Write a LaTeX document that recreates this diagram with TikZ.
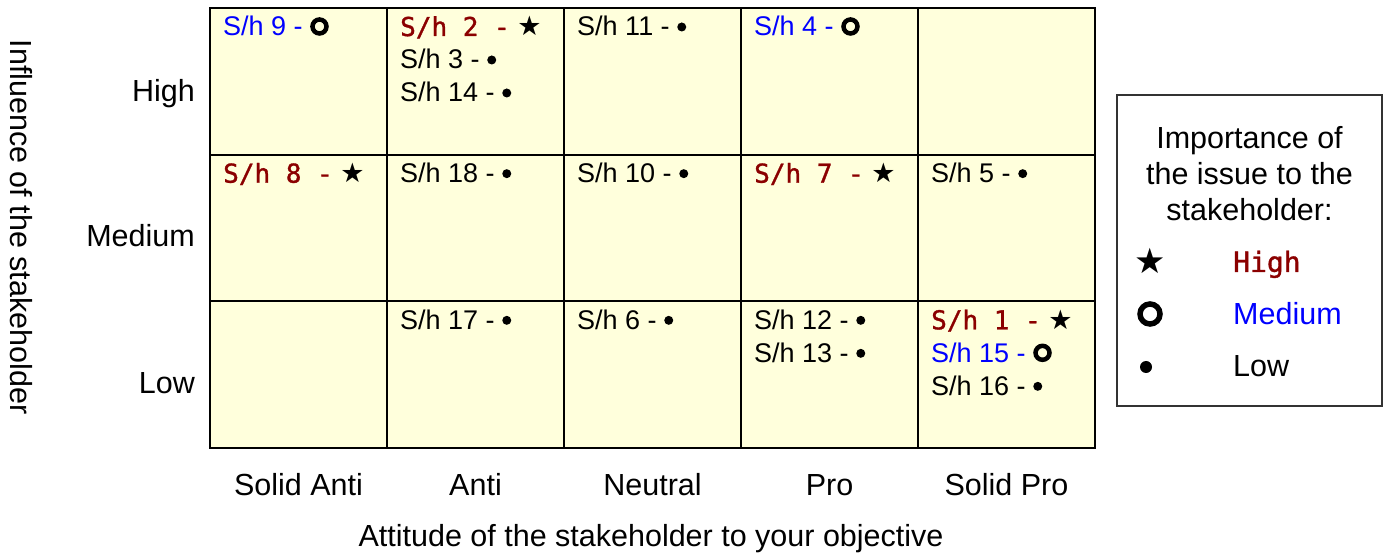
\documentclass[tikz,border=0pt]{standalone}
\usepackage{fontspec}
\setmainfont{Liberation Sans}
\newfontfamily\symfont{DejaVu Sans}
\newfontfamily\hifont[FakeBold=1.2]{DejaVu Sans Mono}
\usetikzlibrary{calc}
\definecolor{hired}{RGB}{139,0,0}
\definecolor{medblue}{RGB}{0,0,255}
\definecolor{cellbg}{RGB}{255,255,220}
\newcommand\sStar{{\symfont\fontsize{27}{32}\selectfont ★}}
\newcommand\sDot{\tikz[baseline=0pt]\fill (4.5pt,9pt) circle[radius=4.5pt];}
\newcommand\sRing{\tikz[baseline=0pt]\draw[line width=4.5pt] (7pt,9.5pt) circle[radius=7pt];}
\newcommand\lStar{{\symfont\fontsize{35}{40}\selectfont ★}}
\newcommand\lDot{\tikz[baseline=0pt]\fill (6pt,10pt) circle[radius=6pt];}
\newcommand\lRing{\tikz[baseline=0pt]\draw[line width=5.5pt] (10pt,11pt) circle[radius=10pt];}
\newcommand\shHi[1]{{\hifont\fontsize{26}{30}\selectfont\color{hired}S/h #1 -} \sStar}
\newcommand\shMe[1]{{\color{medblue}S/h #1 -} \sRing}
\newcommand\shLo[1]{S/h #1 - \sDot}
\tikzset{
  cell/.style={draw, line width=2pt, fill=cellbg, minimum width=177pt, minimum height=146.67pt, inner sep=0pt},
  celltext/.style={anchor=base west, inner sep=0pt, font=\fontsize{27}{32}\selectfont},
  lbl/.style={anchor=base, inner sep=0pt, font=\fontsize{30.5}{36}\selectfont},
  rowlbl/.style={anchor=base east, inner sep=0pt, font=\fontsize{30.5}{36}\selectfont},
  legtext/.style={anchor=base west, inner sep=0pt, font=\fontsize{30.5}{36}\selectfont},
  legsym/.style={anchor=base, inner sep=0pt},
}
\begin{document}
\begin{tikzpicture}[x=1pt,y=-1pt]
\useasboundingbox (0,0) rectangle (1387,553);
% grid cells
\foreach \c in {1,...,5}{
  \foreach \r in {1,2,3}{
    \node[cell] (c-\c-\r) at ({298.5+177*(\c-1)},{81.33+146.67*(\r-1)}) {};
  }
}
% row 1
\node[celltext] (t11a) at ($(c-1-1.north west)+(14,29)$) {\shMe{9}};
\node[celltext] (t21a) at ($(c-2-1.north west)+(14,29)$) {\shHi{2}};
\node[celltext] (t21b) at ($(c-2-1.north west)+(14,62)$) {\shLo{3}};
\node[celltext] (t21c) at ($(c-2-1.north west)+(14,95)$) {\shLo{14}};
\node[celltext] (t31a) at ($(c-3-1.north west)+(14,29)$) {\shLo{11}};
\node[celltext] (t41a) at ($(c-4-1.north west)+(14,29)$) {\shMe{4}};
% row 2
\node[celltext] (t12a) at ($(c-1-2.north west)+(14,29)$) {\shHi{8}};
\node[celltext] (t22a) at ($(c-2-2.north west)+(14,29)$) {\shLo{18}};
\node[celltext] (t32a) at ($(c-3-2.north west)+(14,29)$) {\shLo{10}};
\node[celltext] (t42a) at ($(c-4-2.north west)+(14,29)$) {\shHi{7}};
\node[celltext] (t52a) at ($(c-5-2.north west)+(14,29)$) {\shLo{5}};
% row 3
\node[celltext] (t23a) at ($(c-2-3.north west)+(14,29)$) {\shLo{17}};
\node[celltext] (t33a) at ($(c-3-3.north west)+(14,29)$) {\shLo{6}};
\node[celltext] (t43a) at ($(c-4-3.north west)+(14,29)$) {\shLo{12}};
\node[celltext] (t43b) at ($(c-4-3.north west)+(14,62)$) {\shLo{13}};
\node[celltext] (t53a) at ($(c-5-3.north west)+(14,29)$) {\shHi{1}};
\node[celltext] (t53b) at ($(c-5-3.north west)+(14,62)$) {\shMe{15}};
\node[celltext] (t53c) at ($(c-5-3.north west)+(14,95)$) {\shLo{16}};
% row labels
\node[rowlbl] (rh) at (195,102) {High};
\node[rowlbl] (rm) at (195,247) {Medium};
\node[rowlbl] (rl) at (195,393) {Low};
% column labels
\node[lbl] (k1) at (298.5,495) {Solid Anti};
\node[lbl] (k2) at (475.5,495) {Anti};
\node[lbl] (k3) at (652.5,495) {Neutral};
\node[lbl] (k4) at (829.5,495) {Pro};
\node[lbl] (k5) at (1006.5,495) {Solid Pro};
% axis titles
\node[lbl] (xt) at (651,546) {Attitude of the stakeholder to your objective};
\node[inner sep=0pt, rotate=-90, font=\fontsize{30.5}{36}\selectfont] (yt) at (21,227) {Influence of the stakeholder};
% legend
\node[draw=black!80, line width=1.5pt, minimum width=265pt, minimum height=311pt, inner sep=0pt] (leg) at (1249.5,250.5) {};
\node[lbl] (lt1) at (1249.5,149) {Importance of};
\node[lbl] (lt2) at (1249.5,185) {the issue to the};
\node[lbl] (lt3) at (1249.5,221) {stakeholder:};
\node[legsym] (ls1) at (1150,274) {\lStar};
\node[legsym] (ls2) at (1150,325) {\lRing};
\node[legsym] (ls3) at (1146,377) {\lDot};
\node[legtext] (ll1) at (1233,272) {{\hifont\fontsize{28}{32}\selectfont\color{hired}High}};
\node[legtext] (ll2) at (1233,325) {\color{medblue}Medium};
\node[legtext] (ll3) at (1233,377) {Low};
\end{tikzpicture}
\end{document}
